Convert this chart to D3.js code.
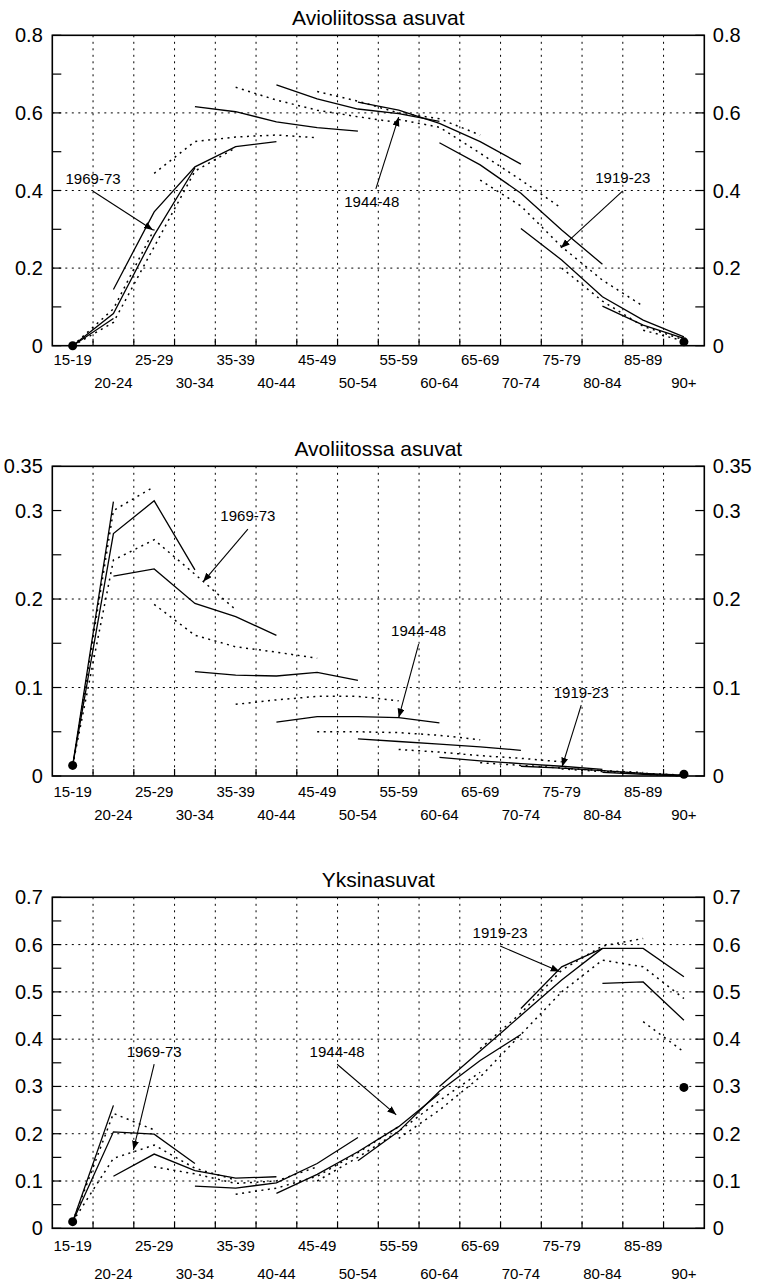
<!DOCTYPE html>
<html>
<head>
<meta charset="utf-8">
<script src="https://cdnjs.cloudflare.com/ajax/libs/d3/7.8.5/d3.min.js"></script>
<style>
  body { margin: 0; background: #fff; }
  svg text { font-family: "Liberation Sans", Arial, sans-serif; fill: #000; }
</style>
</head>
<body>
<div id="chart"></div>
<script>
// age groups on the x axis
var ageGroups = ["15-19", "20-24", "25-29", "30-34", "35-39", "40-44", "45-49", "50-54",
                 "55-59", "60-64", "65-69", "70-74", "75-79", "80-84", "85-89", "90+"];

var titles = ["Avioliitossa asuvat", "Avoliitossa asuvat", "Yksinasuvat"];
var yMax = [0.8, 0.35, 0.7];
var yLabels = [[0, 0.2, 0.4, 0.6, 0.8], [0, 0.1, 0.2, 0.3, 0.35], [0, 0.1, 0.2, 0.3, 0.4, 0.5, 0.6, 0.7]];
var yGrid = [[0.2, 0.4, 0.6], [0.1, 0.2], [0.1, 0.2, 0.3, 0.4, 0.5, 0.6]];
var yTickStep = [0.1, 0.05, 0.05];

// one series per cohort, oldest position first (cohort k starts at age group k-4, clipped to 0)
var married = [
  [0.0],
  [0.0, 0.07],
  [0.0, 0.095, 0.30],
  [0.0, 0.083, 0.285, 0.458],
  [0.0, 0.06, 0.255, 0.45, 0.51],
  [0.145, 0.345, 0.461, 0.513, 0.526],
  [0.444, 0.526, 0.538, 0.543, 0.536],
  [0.616, 0.603, 0.577, 0.562, 0.553],
  [0.666, 0.633, 0.607, 0.59, 0.575],
  [0.672, 0.636, 0.61, 0.598, 0.578],
  [0.655, 0.63, 0.60, 0.585, 0.543],
  [0.628, 0.607, 0.573, 0.526, 0.468],
  [0.583, 0.563, 0.496, 0.427, 0.354],
  [0.523, 0.466, 0.393, 0.298, 0.21],
  [0.427, 0.36, 0.255, 0.169, 0.102],
  [0.302, 0.221, 0.126, 0.066, 0.023],
  [0.2, 0.115, 0.05, 0.015],
  [0.102, 0.053, 0.019],
  [0.04, 0.012],
  [0.01]
];

var cohabiting = [
  [0.012],
  [0.012, 0.31],
  [0.012, 0.30, 0.327],
  [0.012, 0.274, 0.311, 0.233],
  [0.012, 0.244, 0.267, 0.228, 0.188],
  [0.226, 0.234, 0.195, 0.18, 0.159],
  [0.194, 0.159, 0.146, 0.14, 0.133],
  [0.118, 0.114, 0.113, 0.117, 0.108],
  [0.081, 0.086, 0.09, 0.09, 0.085],
  [0.061, 0.067, 0.067, 0.066, 0.06],
  [0.05, 0.05, 0.049, 0.046, 0.041],
  [0.042, 0.039, 0.036, 0.033, 0.029],
  [0.03, 0.027, 0.023, 0.02, 0.016],
  [0.021, 0.017, 0.014, 0.011, 0.0075],
  [0.015, 0.012, 0.009, 0.006, 0.004],
  [0.011, 0.009, 0.006, 0.003, 0.001],
  [0.008, 0.005, 0.003, 0.001],
  [0.004, 0.002, 0.0],
  [0.002, 0.0],
  [0.002]
];

var alone = [
  [0.014],
  [0.014, 0.26],
  [0.014, 0.243, 0.208],
  [0.014, 0.204, 0.199, 0.137],
  [0.014, 0.148, 0.176, 0.127, 0.102],
  [0.11, 0.157, 0.122, 0.106, 0.109],
  [0.13, 0.115, 0.095, 0.1, 0.13],
  [0.089, 0.085, 0.096, 0.137, 0.192],
  [0.072, 0.085, 0.11, 0.16, 0.215],
  [0.074, 0.114, 0.162, 0.215, 0.285],
  [0.1, 0.15, 0.205, 0.27, 0.33],
  [0.143, 0.205, 0.29, 0.355, 0.41],
  [0.19, 0.25, 0.32, 0.41, 0.5],
  [0.3, 0.375, 0.45, 0.525, 0.592],
  [0.38, 0.455, 0.546, 0.597, 0.613],
  [0.465, 0.553, 0.592, 0.592, 0.532],
  [0.5, 0.567, 0.553, 0.486],
  [0.518, 0.521, 0.44],
  [0.437, 0.373],
  [0.298]
];

var panelData = [married, cohabiting, alone];

// cohort labels: text, label x/y, arrow from x/y to x/y (age index, value)
var annotations = [
  [["1969-73", 0.5, 0.418, 0.5, 0.398, 1.97, 0.298],
   ["1944-48", 7.34, 0.357, 7.44, 0.404, 8.0, 0.589],
   ["1919-23", 13.5, 0.419, 13.5, 0.399, 11.98, 0.252]],
  [["1969-73", 4.3, 0.288, 4.3, 0.279, 3.2, 0.2195],
   ["1944-48", 8.49, 0.158, 8.49, 0.149, 8.0, 0.066],
   ["1919-23", 12.48, 0.088, 12.48, 0.080, 12.01, 0.0105]],
  [["1969-73", 2.0, 0.363, 2.0, 0.347, 1.49, 0.166],
   ["1944-48", 6.49, 0.363, 6.49, 0.347, 7.94, 0.24],
   ["1919-23", 10.49, 0.613, 10.49, 0.597, 11.95, 0.543]]
];

// layout
var W = 758, H = 1283;
var left = 52.3, right = 704.3;
var plotTop = [35.3, 466.3, 897.3];
var plotBottom = [345.7, 776, 1228.3];
var labelRows = [[19, 42], [20.5, 44], [22.5, 50.5]];

var svg = d3.select("#chart").append("svg")
  .attr("width", W).attr("height", H);

svg.append("defs").append("marker")
  .attr("id", "arrow")
  .attr("markerUnits", "userSpaceOnUse")
  .attr("markerWidth", 10).attr("markerHeight", 8)
  .attr("refX", 9).attr("refY", 3.5)
  .attr("orient", "auto")
  .append("path")
  .attr("d", "M0,0 L9,3.5 L0,7 Z")
  .attr("fill", "#000");

var x = d3.scaleLinear().domain([-0.5, 15.5]).range([left, right]);

function fmt(d) {
  return d === 0 ? "0" : String(+d.toFixed(2));
}

for (var p = 0; p < 3; p++) {
  var y = d3.scaleLinear().domain([0, yMax[p]]).range([plotBottom[p], plotTop[p]]);
  var g = svg.append("g");

  // title
  g.append("text")
    .attr("x", (left + right) / 2)
    .attr("y", plotTop[p] - 10.5)
    .attr("text-anchor", "middle")
    .attr("font-size", "21px")
    .text(titles[p]);

  // vertical grid at the age group borders
  g.selectAll("line.vgrid")
    .data(d3.range(0, 15))
    .enter().append("line")
    .attr("class", "vgrid")
    .attr("x1", function(d) { return x(d + 0.5); })
    .attr("x2", function(d) { return x(d + 0.5); })
    .attr("y1", plotTop[p]).attr("y2", plotBottom[p])
    .attr("stroke", "#000").attr("stroke-width", 1)
    .attr("stroke-dasharray", "2,4.5");

  g.selectAll("line.hgrid")
    .data(yGrid[p])
    .enter().append("line")
    .attr("class", "hgrid")
    .attr("x1", left).attr("x2", right)
    .attr("y1", function(d) { return y(d); })
    .attr("y2", function(d) { return y(d); })
    .attr("stroke", "#000").attr("stroke-width", 1)
    .attr("stroke-dasharray", "2,4.5");

  // inward ticks
  var nTicks = Math.round(yMax[p] / yTickStep[p]);
  var tickVals = d3.range(0, nTicks + 1).map(function(k) { return k * yTickStep[p]; });
  g.selectAll("line.lt")
    .data(tickVals)
    .enter().append("line")
    .attr("x1", left).attr("x2", left + 9)
    .attr("y1", function(d) { return y(d); })
    .attr("y2", function(d) { return y(d); })
    .attr("stroke", "#000").attr("stroke-width", 1.2);
  g.selectAll("line.rt")
    .data(tickVals)
    .enter().append("line")
    .attr("x1", right).attr("x2", right - 9)
    .attr("y1", function(d) { return y(d); })
    .attr("y2", function(d) { return y(d); })
    .attr("stroke", "#000").attr("stroke-width", 1.2);
  g.selectAll("line.bt")
    .data(d3.range(0, 15))
    .enter().append("line")
    .attr("x1", function(d) { return x(d + 0.5); })
    .attr("x2", function(d) { return x(d + 0.5); })
    .attr("y1", plotBottom[p]).attr("y2", plotBottom[p] - 7)
    .attr("stroke", "#000").attr("stroke-width", 1.2);

  // frame
  g.append("rect")
    .attr("x", left).attr("y", plotTop[p])
    .attr("width", right - left).attr("height", plotBottom[p] - plotTop[p])
    .attr("fill", "none").attr("stroke", "#000").attr("stroke-width", 1.6);

  // y labels both sides
  g.selectAll("text.yl")
    .data(yLabels[p])
    .enter().append("text")
    .attr("x", left - 9.5)
    .attr("y", function(d) { return y(d); })
    .attr("dy", "0.35em")
    .attr("text-anchor", "end")
    .attr("font-size", "20px")
    .text(fmt);
  g.selectAll("text.yr")
    .data(yLabels[p])
    .enter().append("text")
    .attr("x", right + 8.5)
    .attr("y", function(d) { return y(d); })
    .attr("dy", "0.35em")
    .attr("font-size", "20px")
    .text(fmt);

  // x labels, staggered on two rows
  g.selectAll("text.xl")
    .data(ageGroups)
    .enter().append("text")
    .attr("x", function(d, i) { return x(i); })
    .attr("y", function(d, i) { return plotBottom[p] + labelRows[p][i % 2]; })
    .attr("text-anchor", "middle")
    .attr("font-size", "15px")
    .text(function(d) { return d; });

  // cohort lines
  var line = d3.line()
    .x(function(d) { return x(d[0]); })
    .y(function(d) { return y(d[1]); });

  panelData[p].forEach(function(vals, k) {
    var start = Math.max(0, k - 4);
    var pts = vals.map(function(v, j) { return [start + j, v]; });
    if (pts.length === 1) {
      g.append("circle")
        .attr("cx", x(pts[0][0])).attr("cy", y(pts[0][1]))
        .attr("r", 4.5).attr("fill", "#000");
    } else {
      g.append("path")
        .attr("d", line(pts))
        .attr("fill", "none")
        .attr("stroke", "#000")
        .attr("stroke-width", k % 2 === 0 ? 1.5 : 1.3)
        .attr("stroke-dasharray", k % 2 === 0 ? "2,4.5" : null);
    }
  });

  // cohort annotations
  annotations[p].forEach(function(a) {
    g.append("text")
      .attr("x", x(a[1])).attr("y", y(a[2]))
      .attr("text-anchor", "middle")
      .attr("font-size", "15px")
      .text(a[0]);
    g.append("line")
      .attr("x1", x(a[3])).attr("y1", y(a[4]))
      .attr("x2", x(a[5])).attr("y2", y(a[6]))
      .attr("stroke", "#000").attr("stroke-width", 1.1)
      .attr("marker-end", "url(#arrow)");
  });
}
</script>
</body>
</html>
